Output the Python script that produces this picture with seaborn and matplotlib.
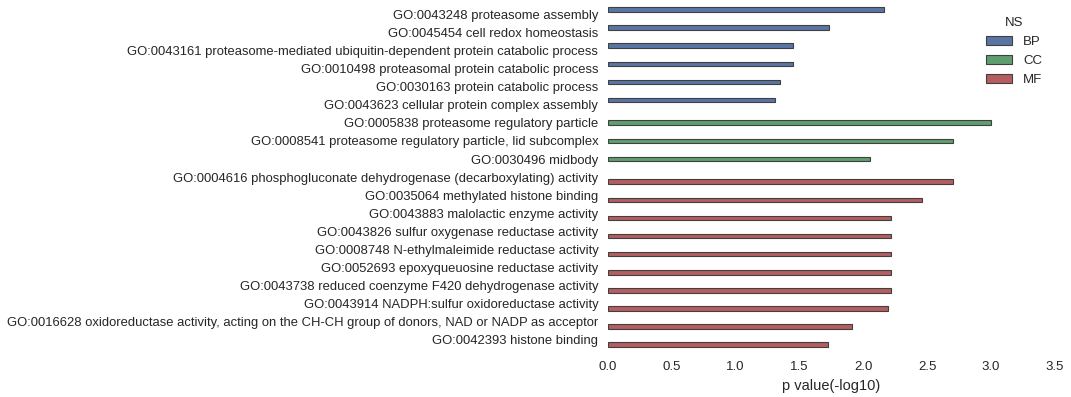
import matplotlib
matplotlib.use("Agg")
import matplotlib.pyplot as plt
import seaborn as sns
import pandas as pd

terms = [
    "GO:0043248 proteasome assembly",
    "GO:0045454 cell redox homeostasis",
    "GO:0043161 proteasome-mediated ubiquitin-dependent protein catabolic process",
    "GO:0010498 proteasomal protein catabolic process",
    "GO:0030163 protein catabolic process",
    "GO:0043623 cellular protein complex assembly",
    "GO:0005838 proteasome regulatory particle",
    "GO:0008541 proteasome regulatory particle, lid subcomplex",
    "GO:0030496 midbody",
    "GO:0004616 phosphogluconate dehydrogenase (decarboxylating) activity",
    "GO:0035064 methylated histone binding",
    "GO:0043883 malolactic enzyme activity",
    "GO:0043826 sulfur oxygenase reductase activity",
    "GO:0008748 N-ethylmaleimide reductase activity",
    "GO:0052693 epoxyqueuosine reductase activity",
    "GO:0043738 reduced coenzyme F420 dehydrogenase activity",
    "GO:0043914 NADPH:sulfur oxidoreductase activity",
    "GO:0016628 oxidoreductase activity, acting on the CH-CH group of donors, NAD or NADP as acceptor",
    "GO:0042393 histone binding",
]
namespaces = ["BP"] * 6 + ["CC"] * 3 + ["MF"] * 10
pvalues = [2.16, 1.73, 1.45, 1.45, 1.35, 1.31,
           3.00, 2.70, 2.05,
           2.70, 2.46, 2.22, 2.22, 2.22, 2.22, 2.22, 2.19, 1.91, 1.72]
ns_order = ["BP", "CC", "MF"]
palette = ["#4C72B0", "#55A868", "#C44E52"]

df = pd.DataFrame({"term": terms, "NS": namespaces, "p": pvalues})

sns.set_style("white")
plt.rcParams["font.family"] = ["Liberation Sans", "DejaVu Sans"]
plt.rcParams["text.color"] = ".15"
plt.rcParams["axes.labelcolor"] = ".15"
plt.rcParams["xtick.color"] = ".15"
plt.rcParams["ytick.color"] = ".15"

fig = plt.figure(figsize=(10.71, 3.97), dpi=100)
ax = fig.add_axes([0.5677, 0.122, 0.4173, 0.864])

sns.barplot(data=df, x="p", y="term", hue="NS", hue_order=ns_order,
            palette=palette, dodge=True, orient="h", ax=ax,
            edgecolor=".25", linewidth=0.8, width=0.8, gap=0)

ax.set_xlim(0, 3.5)
ax.set_xticks([0.0, 0.5, 1.0, 1.5, 2.0, 2.5, 3.0, 3.5])
ax.set_xticklabels(["0.0", "0.5", "1.0", "1.5", "2.0", "2.5", "3.0", "3.5"])
ax.tick_params(axis="x", labelsize=9.5, length=0, pad=9)
ax.tick_params(axis="y", labelsize=9.4, length=0, pad=7)
ax.set_xlabel("p value(-log10)", fontsize=10.5, labelpad=4)
ax.set_ylabel("")
sns.despine(ax=ax, left=True, bottom=True)

leg = ax.legend(title="NS", loc="upper right", frameon=False, fontsize=9.5,
                title_fontsize=9.5, bbox_to_anchor=(0.998, 1.0),
                labelspacing=0.5, handlelength=2.0)

fig.savefig("out.png", dpi=100)
